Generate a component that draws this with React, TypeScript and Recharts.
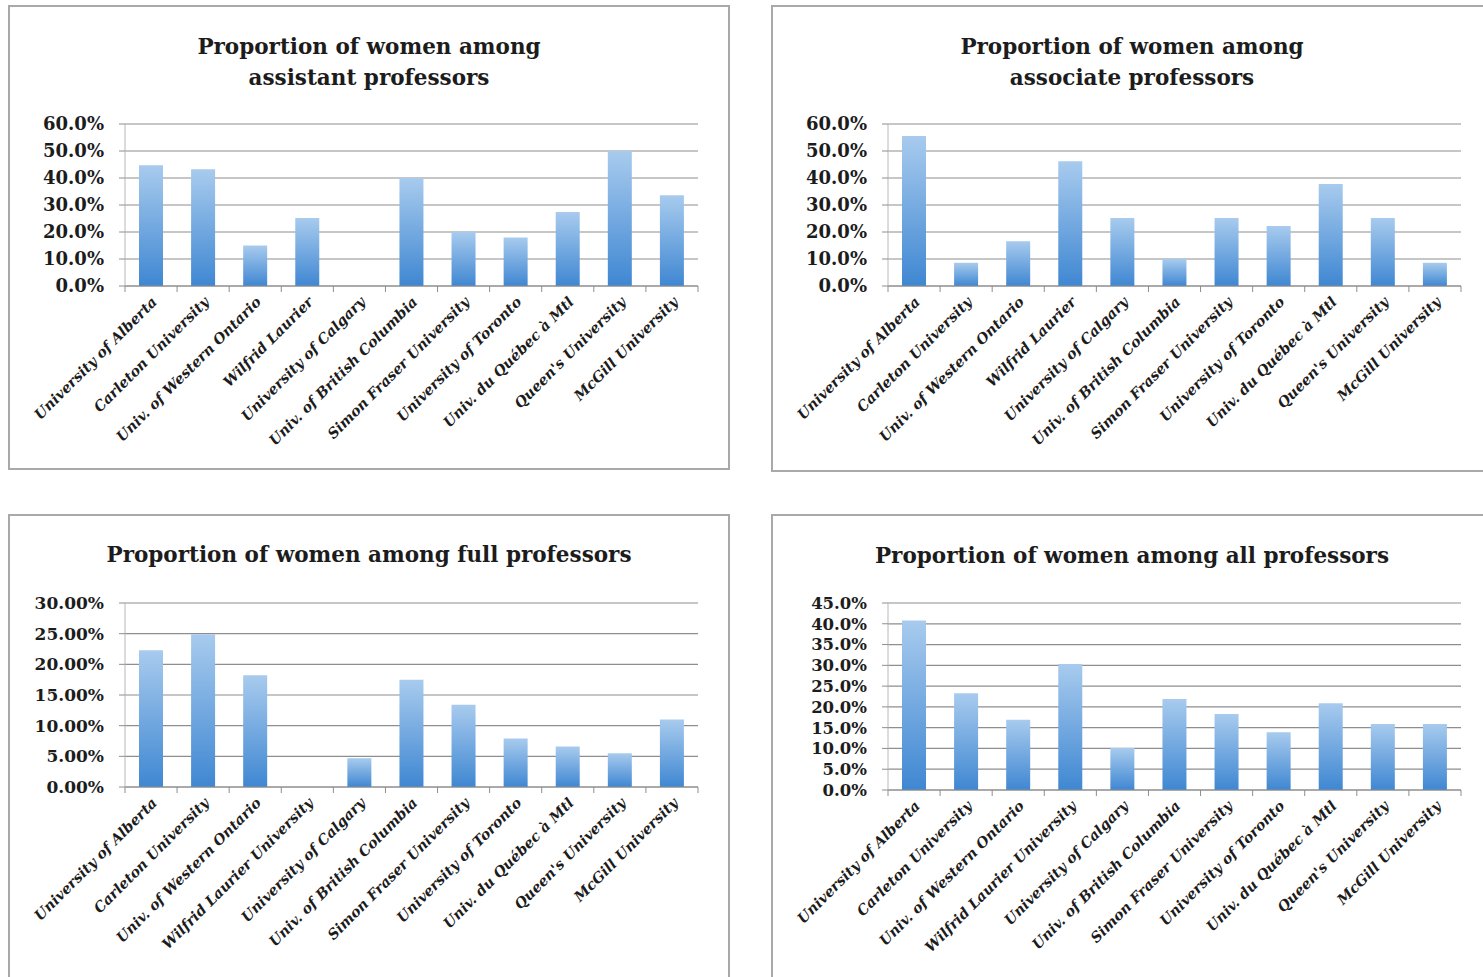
import { Bar, BarChart, CartesianGrid, XAxis, YAxis } from 'recharts';

const universitiesShort = [
  'University of Alberta',
  'Carleton University',
  'Univ. of Western Ontario',
  'Wilfrid Laurier',
  'University of Calgary',
  'Univ. of British Columbia',
  'Simon Fraser University',
  'University of Toronto',
  'Univ. du Québec à Mtl',
  "Queen's University",
  'McGill University',
];

const universitiesLong = universitiesShort.map((u) => (u === 'Wilfrid Laurier' ? 'Wilfrid Laurier University' : u));

const assistantPct = [44.7, 43.2, 15.0, 25.2, 0, 40.0, 20.0, 18.0, 27.4, 50.0, 33.6];
const associatePct = [55.6, 8.6, 16.6, 46.2, 25.2, 10.0, 25.2, 22.2, 37.8, 25.2, 8.6];
const fullPct = [22.3, 24.9, 18.2, 0, 4.7, 17.5, 13.4, 7.9, 6.6, 5.5, 11.0];
const allPct = [40.8, 23.3, 16.9, 30.3, 10.1, 21.9, 18.3, 13.9, 20.9, 15.9, 15.9];

const ticks60 = [0, 10, 20, 30, 40, 50, 60];
const ticks30 = [0, 5, 10, 15, 20, 25, 30];
const ticks45 = [0, 5, 10, 15, 20, 25, 30, 35, 40, 45];

const INK = '#1c1c1c';
const GRID = '#8e8e8e';

type PanelProps = {
  id: string;
  left: number;
  top: number;
  height: number;
  titleLines: string[];
  titleTop: number;
  categories: string[];
  values: number[];
  ticks: number[];
  decimals: number;
  plotTop: number;
  plotHeight: number;
  tickFont: number;
};

const CHART_W = 722;
const AXIS_W = 117;
const RIGHT = 32;

function CategoryTick(props: any) {
  const { x, y, payload, index, count } = props;
  const step = (CHART_W - AXIS_W - RIGHT) / count;
  return (
    <g>
      <line x1={x + step / 2} y1={y - 8} x2={x + step / 2} y2={y - 2} stroke={GRID} />
      {index === 0 && <line x1={x - step / 2} y1={y - 8} x2={x - step / 2} y2={y - 2} stroke={GRID} />}
      <text
        x={0}
        y={0}
        transform={`translate(${x + 4},${y + 6}) rotate(-45)`}
        textAnchor="end"
        dominantBaseline="middle"
        fontFamily="'DejaVu Serif', serif"
        fontWeight="bold"
        fontStyle="italic"
        fontSize={14.3}
        fill={INK}
      >
        {payload.value}
      </text>
    </g>
  );
}

function Panel({ id, left, top, height, titleLines, titleTop, categories, values, ticks, decimals, plotTop, plotHeight, tickFont }: PanelProps) {
  const data = categories.map((name, i) => ({ name, value: values[i] }));
  const max = ticks[ticks.length - 1];
  return (
    <div
      style={{
        position: 'absolute',
        left,
        top,
        width: CHART_W,
        height,
        border: '2px solid #a9a9a9',
        boxSizing: 'border-box',
        background: '#fff',
      }}
    >
      <div
        style={{
          position: 'absolute',
          left: 0,
          right: 0,
          top: titleTop,
          textAlign: 'center',
          fontFamily: "'DejaVu Serif', serif",
          fontWeight: 'bold',
          fontSize: 21.5,
          lineHeight: '31px',
          color: INK,
        }}
      >
        {titleLines.map((t) => (
          <div key={t}>{t}</div>
        ))}
      </div>
      <div style={{ position: 'absolute', left: -2, top: -2 }}>
        <BarChart
          width={CHART_W}
          height={height}
          data={data}
          margin={{ top: plotTop, right: RIGHT, left: 0, bottom: 0 }}
          barSize={24}
        >
          <defs>
            <linearGradient id={`grad-${id}`} x1="0" y1="0" x2="0" y2="1">
              <stop offset="0%" stopColor="#a8cbee" />
              <stop offset="100%" stopColor="#3f87d2" />
            </linearGradient>
          </defs>
          <CartesianGrid vertical={false} stroke={GRID} strokeWidth={1.2} />
          <XAxis
            dataKey="name"
            interval={0}
            height={height - plotTop - plotHeight}
            axisLine={{ stroke: GRID }}
            tickLine={false}
            tick={(p: any) => <CategoryTick {...p} count={categories.length} />}
          />
          <YAxis
            width={AXIS_W}
            domain={[0, max]}
            ticks={ticks}
            interval={0}
            axisLine={{ stroke: '#b8b8b8' }}
            tickLine={{ stroke: GRID }}
            tickSize={6}
            tickMargin={15}
            tickFormatter={(v: number) => `${v.toFixed(decimals)}%`}
            tick={{ fontFamily: "'DejaVu Serif', serif", fontWeight: 'bold', fontSize: tickFont, fill: INK }}
          />
          <Bar dataKey="value" fill={`url(#grad-${id})`} isAnimationActive={false} />
        </BarChart>
      </div>
    </div>
  );
}

export default function App() {
  return (
    <div style={{ position: 'absolute', left: 0, top: 0, width: 1483, height: 977, overflow: 'hidden', background: '#fff' }}>
      <Panel
        id="asst"
        left={8}
        top={5}
        height={465}
        titleLines={['Proportion of women among', 'assistant professors']}
        titleTop={24}
        categories={universitiesShort}
        values={assistantPct}
        ticks={ticks60}
        decimals={1}
        plotTop={119}
        plotHeight={162}
        tickFont={18}
      />
      <Panel
        id="assoc"
        left={771}
        top={5}
        height={467}
        titleLines={['Proportion of women among', 'associate professors']}
        titleTop={24}
        categories={universitiesShort}
        values={associatePct}
        ticks={ticks60}
        decimals={1}
        plotTop={119}
        plotHeight={162}
        tickFont={18}
      />
      <Panel
        id="full"
        left={8}
        top={514}
        height={480}
        titleLines={['Proportion of women among full professors']}
        titleTop={23}
        categories={universitiesLong}
        values={fullPct}
        ticks={ticks30}
        decimals={2}
        plotTop={89}
        plotHeight={184}
        tickFont={17}
      />
      <Panel
        id="all"
        left={771}
        top={514}
        height={480}
        titleLines={['Proportion of women among all professors']}
        titleTop={24}
        categories={universitiesLong}
        values={allPct}
        ticks={ticks45}
        decimals={1}
        plotTop={89}
        plotHeight={187}
        tickFont={16.5}
      />
    </div>
  );
}
